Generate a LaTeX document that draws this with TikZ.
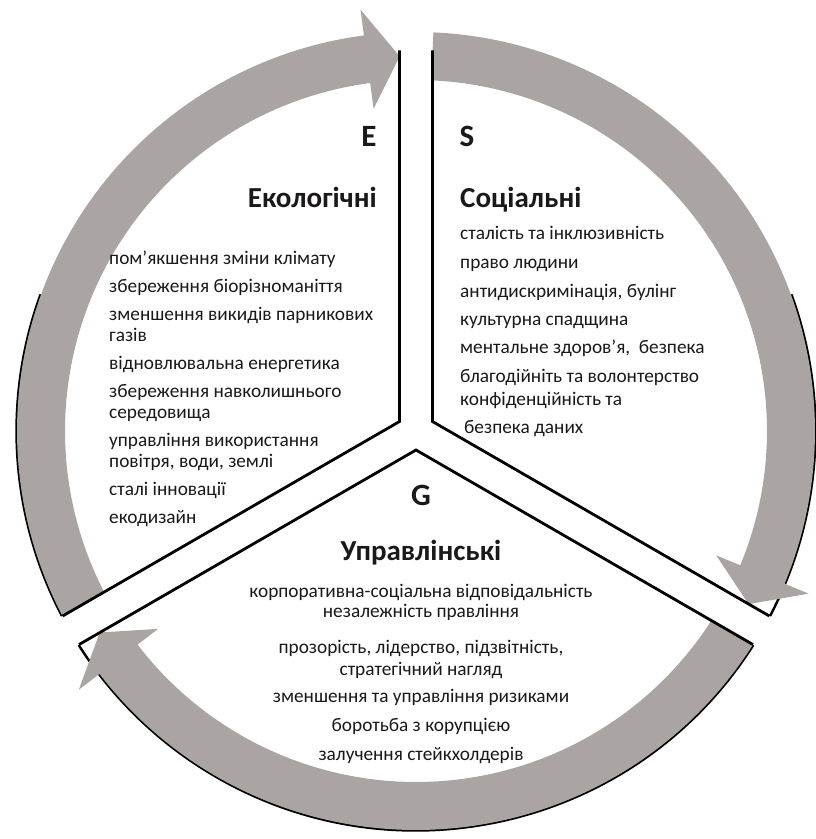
\documentclass[tikz,border=0pt]{standalone}
\usepackage{fontspec}
\setmainfont{Carlito}

\definecolor{ringgrey}{RGB}{170,165,162}
\definecolor{inktext}{RGB}{26,24,24}

\tikzset{
  rimline/.style={line width=2.4pt, black},
  edgeline/.style={line width=2.8pt, black, line join=miter},
  ringarrow/.style={fill=ringgrey},
  bigletter/.style={font=\fontsize{31}{33}\selectfont\bfseries, text=inktext, inner sep=0pt},
  headtext/.style={font=\fontsize{29}{31}\selectfont\bfseries, text=inktext, inner sep=0pt},
  itemtext/.style={font=\fontsize{19.3}{22}\selectfont, text=inktext, inner sep=0pt},
}

\newcommand{\Rin}{351}
\newcommand{\Rout}{399}
\newcommand{\Rmid}{375}

\begin{document}
\begin{tikzpicture}[x=1pt,y=1pt]
    \useasboundingbox (-416,-408) rectangle (399,431);

    % Centre of the cycle and the inner corners of the three sectors
    \coordinate (O) at (0,0);
    \coordinate (cornerE) at (150:19);
    \coordinate (cornerS) at (30:19);
    \coordinate (cornerG) at (-90:19);

    % Black rim along the lower part of the circle (mostly under the arrows)
    \draw[rimline] (160:399.5) arc[start angle=160, end angle=207.6, radius=399.5];
    \draw[rimline] (20:399.5) arc[start angle=20, end angle=-27.6, radius=399.5];
    \draw[rimline] (-32.4:399.5) arc[start angle=-32.4, end angle=-147.6, radius=399.5];

    % Grey circular arrows, one per sector, running clockwise
    \foreach \s [evaluate=\s as \ts using \s-2.5,
                 evaluate=\s as \te using \s-117.5,
                 evaluate=\s as \tb using \s-112.5] in {210,90,-30}{
        \fill[ringarrow] (\ts:\Rout) arc[start angle=\ts, end angle=\tb, radius=\Rout]
            -- (\tb:425) -- (\te:\Rmid) -- (\tb:325)
            -- (\tb:\Rin) arc[start angle=\tb, end angle=\ts, radius=\Rin] -- cycle;
    }

    % Straight edges of the sectors
    \draw[edgeline] (cornerE) ++(90:371) -- (cornerE) -- ++(210:389);
    \draw[edgeline] (cornerS) ++(90:371) -- (cornerS) -- ++(-30:389);
    \draw[edgeline] (cornerG) ++(210:389) -- (cornerG) -- ++(-30:389);

    % Letters and headings
    \node[bigletter, anchor=base] (letterE) at (-47,284) {E};
    \node[bigletter, anchor=base] (letterS) at (51,284) {S};
    \node[bigletter, anchor=base] (letterG) at (5,-74) {G};
    \node[headtext, anchor=base east] (headE) at (-39,224) {Екологічні};
    \node[headtext, anchor=base west] (headS) at (44,224) {Соціальні};
    \node[headtext, anchor=base] (headG) at (5,-129) {Управлінські};

    % Environmental items
    \foreach \txt/\y [count=\i] in {пом'якшення зміни клімату/167,
        збереження біорізноманіття/139, зменшення викидів парникових/111,
        газів/90, відновлювальна енергетика/62, збереження навколишнього/34,
        середовища/13, управління використання/-15, {повітря, води, землі}/-36,
        сталі інновації/-64, екодизайн/-92}
        \node[itemtext, anchor=base west] (itemE\i) at (-307,\y) {\txt};

    % Social items
    \foreach \txt/\y [count=\i] in {сталість та інклюзивність/192,
        право людини/163, {антидискримінація, булінг}/134,
        культурна спадщина/106, {ментальне здоров'я,\ \ безпека}/78,
        благодійніть та волонтерство/49, конфіденційність та/26}
        \node[itemtext, anchor=base west] (itemS\i) at (44,\y) {\txt};
    \node[itemtext, anchor=base west] (itemS8) at (48,-2) {безпека даних};

    % Governance items
    \foreach \txt/\y [count=\i] in {корпоративна-соціальна відповідальність/-166,
        незалежність правління/-186, {прозорість, лідерство, підзвітність,}/-222,
        стратегічний нагляд/-244, зменшення та управління ризиками/-271,
        боротьба з корупцією/-300, залучення стейкхолдерів/-329}
        \node[itemtext, anchor=base] (itemG\i) at (5,\y) {\txt};

\end{tikzpicture}
\end{document}
